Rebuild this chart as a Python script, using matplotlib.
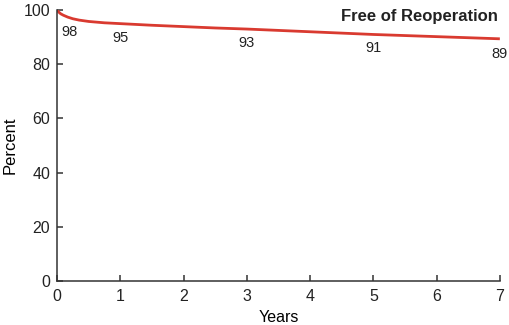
import matplotlib
matplotlib.use("Agg")
from matplotlib import pyplot as plt

plt.rcParams['font.family'] = ['Liberation Sans', 'DejaVu Sans']

# Freedom from reoperation curve
years = [0, 0.03, 0.06, 0.1, 0.17, 0.25, 0.35, 0.5, 0.75, 1, 1.5, 2, 2.5, 3, 3.5, 4, 4.5, 5, 5.5, 6, 6.5, 7]
percent = [100, 99.2, 98.6, 98.1, 97.4, 96.8, 96.3, 95.8, 95.3, 95.0, 94.4, 93.9, 93.4, 93.0, 92.5, 92.0, 91.5, 91.0, 90.6, 90.2, 89.8, 89.4]

# Annotated survival estimates
label_years = [0.2, 1, 3, 5, 7]
label_values = [98, 95, 93, 91, 89]
label_offsets = [-7, -5, -5, -5, -5]

fig = plt.figure(figsize=(5.09, 3.25), dpi=100)
ax = fig.add_axes([0.112, 0.135, 0.870, 0.834])

ax.plot(years, percent, color='#d93a30', linewidth=2, solid_capstyle='butt')

for x, v, dy in zip(label_years, label_values, label_offsets):
    ax.annotate(str(v), (x, v), xytext=(0, dy), textcoords='offset points',
                ha='center', va='top', fontsize=10.5, color='#222222', annotation_clip=False)

ax.text(0.995, 0.975, 'Free of Reoperation', transform=ax.transAxes,
        ha='right', va='center', fontsize=12, fontweight='bold', color='#222222')

ax.set_xlim(0, 7)
ax.set_ylim(0, 100)
ax.set_xticks(range(0, 8))
ax.set_yticks(range(0, 101, 20))
ax.set_xlabel('Years', fontsize=11.5, labelpad=4)
ax.set_ylabel('Percent', fontsize=12, labelpad=4)

for side in ['top', 'right']:
    ax.spines[side].set_visible(False)
for side in ['left', 'bottom']:
    ax.spines[side].set_color('#333333')
    ax.spines[side].set_linewidth(1.1)
ax.tick_params(direction='in', length=4, width=1.1, color='#333333',
               labelsize=11.5, labelcolor='#222222')
ax.tick_params(axis='x', pad=6)
ax.tick_params(axis='y', pad=5)

fig.savefig('out.png', dpi=100)
